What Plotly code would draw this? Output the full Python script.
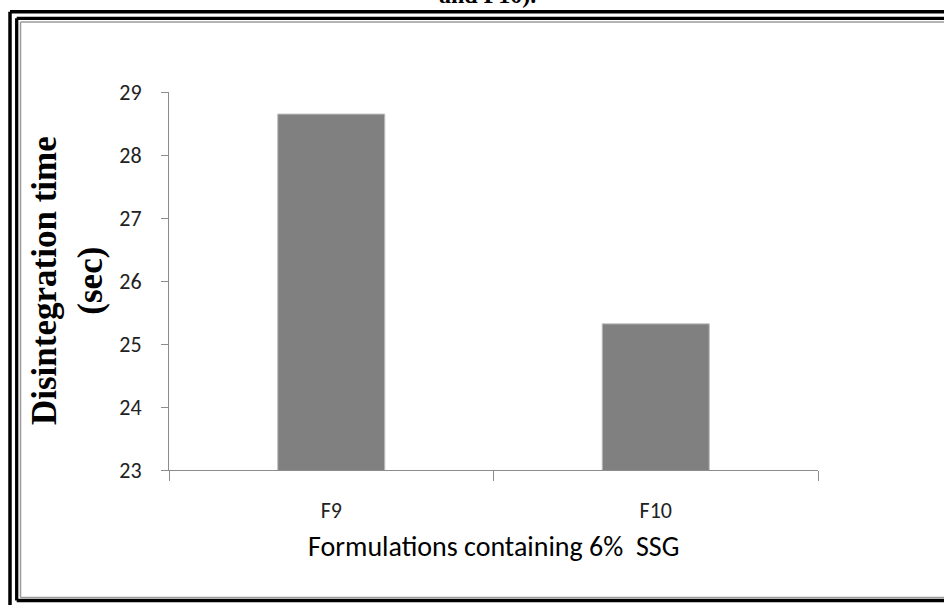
import plotly.graph_objects as go

categories = ["F9", "F10"]
values = [28.65, 25.32]
y_ticks = [23, 24, 25, 26, 27, 28, 29]

W, H = 944, 605
L, R, T, B = 169, 818, 92, 470  # plot area in pixels


def px(x):
    return (x - L) / (R - L)


def py(y):
    return (B - y) / (B - T)


sans = "Carlito, Calibri, Lato, sans-serif"
serif = "'Liberation Serif', 'Times New Roman', serif"

fig = go.Figure(
    go.Bar(
        x=categories,
        y=values,
        marker=dict(color="#808080", line=dict(color="#c0c0c0", width=1)),
        width=0.33,
    )
)

shapes = []
# outer black frame
shapes.append(dict(type="line", x0=px(10), x1=px(960), y0=py(11.7), y1=py(11.7),
                   line=dict(color="black", width=3.5)))
shapes.append(dict(type="line", x0=px(10), x1=px(10), y0=py(11.7), y1=py(620),
                   line=dict(color="black", width=3.5)))
# inner black frame
shapes.append(dict(type="line", x0=px(16.7), x1=px(960), y0=py(18.3), y1=py(18.3),
                   line=dict(color="black", width=3.3)))
shapes.append(dict(type="line", x0=px(16.7), x1=px(16.7), y0=py(18.3), y1=py(600.5),
                   line=dict(color="black", width=3.3)))
shapes.append(dict(type="line", x0=px(16.7), x1=px(960), y0=py(600.5), y1=py(600.5),
                   line=dict(color="black", width=3.3)))
# thin gray inner lines
shapes.append(dict(type="line", x0=px(20.5), x1=px(960), y0=py(22), y1=py(22),
                   line=dict(color="#9a9a9a", width=1.5)))
shapes.append(dict(type="line", x0=px(20.5), x1=px(20.5), y0=py(22), y1=py(597.5),
                   line=dict(color="#9a9a9a", width=1.5)))
shapes.append(dict(type="line", x0=px(20.5), x1=px(960), y0=py(597.5), y1=py(597.5),
                   line=dict(color="#9a9a9a", width=1.5)))
for s in shapes:
    s.update(xref="paper", yref="paper", layer="above")

annotations = [
    dict(text="<b>and F10).</b>", x=px(487), y=py(10), xref="paper", yref="paper",
         xanchor="center", yanchor="bottom", showarrow=False,
         font=dict(family=serif, size=24, color="black")),
    dict(text="<b>Disintegration time<br>(sec)</b>", x=px(67), y=0.5, xref="paper", yref="paper",
         xanchor="center", yanchor="middle", textangle=-90, showarrow=False,
         font=dict(family=serif, size=35, color="black")),
    dict(text="Formulations containing 6%&nbsp; SSG", x=0.5, y=py(546), xref="paper", yref="paper",
         xanchor="center", yanchor="middle", showarrow=False,
         font=dict(family=sans, size=28, color="black")),
]

fig.update_layout(
    width=W, height=H,
    margin=dict(l=L, r=W - R, t=T, b=H - B, pad=0),
    paper_bgcolor="white", plot_bgcolor="white",
    showlegend=False,
    bargap=0.67,
    shapes=shapes,
    annotations=annotations,
    xaxis=dict(
        type="category", showline=True, linecolor="#8c8c8c", linewidth=1,
        ticks="outside", ticklen=10, tickcolor="#8c8c8c", tickson="boundaries",
        showgrid=False, ticklabelstandoff=21,
        tickfont=dict(family=sans, size=22, color="#222"),
    ),
    yaxis=dict(
        range=[23, 29], tickvals=y_ticks, showline=True, linecolor="#8c8c8c", linewidth=1,
        ticks="outside", ticklen=7, tickcolor="#8c8c8c", showgrid=False, zeroline=False,
        ticklabelstandoff=15,
        tickfont=dict(family=sans, size=22, color="#222"),
    ),
)

fig.write_html("out.html")
